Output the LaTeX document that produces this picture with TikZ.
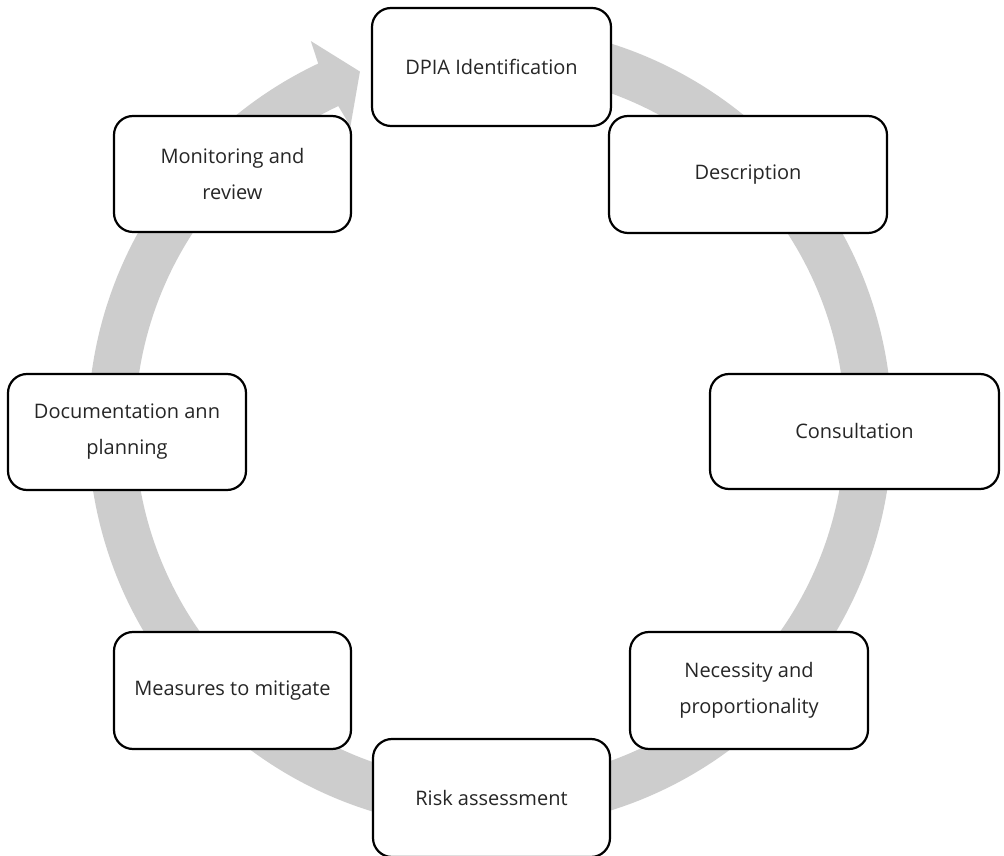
\documentclass[tikz,border=0pt]{standalone}
\usepackage{fontspec}
\setmainfont{Open Sans}
\definecolor{ringgray}{RGB}{205,205,205}
\definecolor{txtgray}{RGB}{38,38,38}
\begin{document}
\begin{tikzpicture}[x=1pt,y=1pt,
  stage/.style={draw=black, line width=2.2pt, fill=white, rounded corners=19pt,
    align=center, text=txtgray, inner sep=0pt,
    font=\fontsize{20}{36}\selectfont},
]
\clip (0,0) rectangle (1004,855);
\fill[white] (0,0) rectangle (1004,855);

% circular process arrow, running clockwise back into the first step
\begin{scope}[shift={(490,428)}]
  \fill[ringgray] (100:402) arc[start angle=100, end angle=-244.7, radius=402]
    -- (-245.1:425.5) -- (-249.9:378.5) -- (-245.1:331.5)
    -- (-244.7:355) arc[start angle=-244.7, end angle=100, radius=355] -- cycle;
\end{scope}

% process steps
\node[stage, minimum width=239pt, minimum height=118pt] (dpia) at (491.5,788) {DPIA Identification};
\node[stage, minimum width=278pt, minimum height=117pt] (desc) at (748,680.5) {Description};
\node[stage, minimum width=289pt, minimum height=115pt] (cons) at (854.5,423.5) {Consultation};
\node[stage, minimum width=238pt, minimum height=117pt] (nec) at (749,164.5) {Necessity and\\proportionality};
\node[stage, minimum width=237pt, minimum height=118pt] (risk) at (491.5,57) {Risk assessment};
\node[stage, minimum width=237pt, minimum height=117pt] (meas) at (232.5,164.5) {Measures to mitigate};
\node[stage, minimum width=238pt, minimum height=116pt] (doc) at (127,423) {Documentation ann\\planning};
\node[stage, minimum width=237pt, minimum height=116pt] (mon) at (232.5,681) {Monitoring and\\review};
\end{tikzpicture}
\end{document}
